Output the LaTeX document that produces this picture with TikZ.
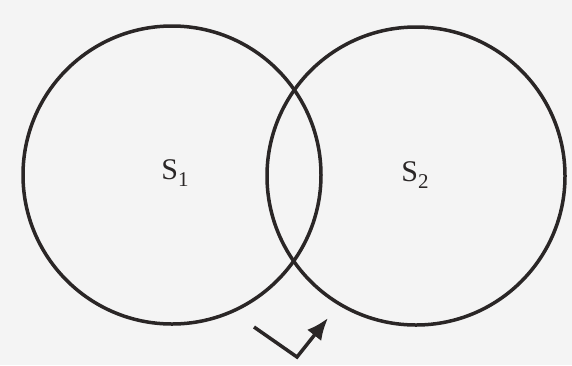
\documentclass[tikz,border=0pt]{standalone}
\usepackage{fontspec}
\setmainfont{Liberation Serif}
\usetikzlibrary{arrows.meta}
\definecolor{ink}{HTML}{2A2626}
\definecolor{paper}{HTML}{F4F4F4}
\newcommand{\lowsub}[1]{\raisebox{-0.45ex}{\fontsize{21}{24}\selectfont #1}}
\begin{document}
\begin{tikzpicture}[x=1pt,y=-1pt,
  ring/.style={circle, draw=ink, line width=3.5pt, minimum size=298pt, inner sep=0pt},
  lab/.style={text=ink, font=\fontsize{30}{36}\selectfont, inner sep=0pt},
  turn/.style={draw=ink, line width=3.5pt, line join=miter, -{Latex[length=22pt,width=18pt]}}]
  \fill[paper] (0,0) rectangle (572,365);
  \useasboundingbox (0,0) rectangle (572,365);
  \node[ring] (c1) at (172,175) {};
  \node[ring] (c2) at (416,176) {};
  \node[lab] (s1) at (175,173) {S\lowsub{1}};
  \node[lab] (s2) at (415,175) {S\lowsub{2}};
  \coordinate (a) at (254,327);
  \coordinate (b) at (297,357);
  \coordinate (c) at (328,318);
  \draw[turn] (a) -- (b) -- (c);
\end{tikzpicture}
\end{document}
